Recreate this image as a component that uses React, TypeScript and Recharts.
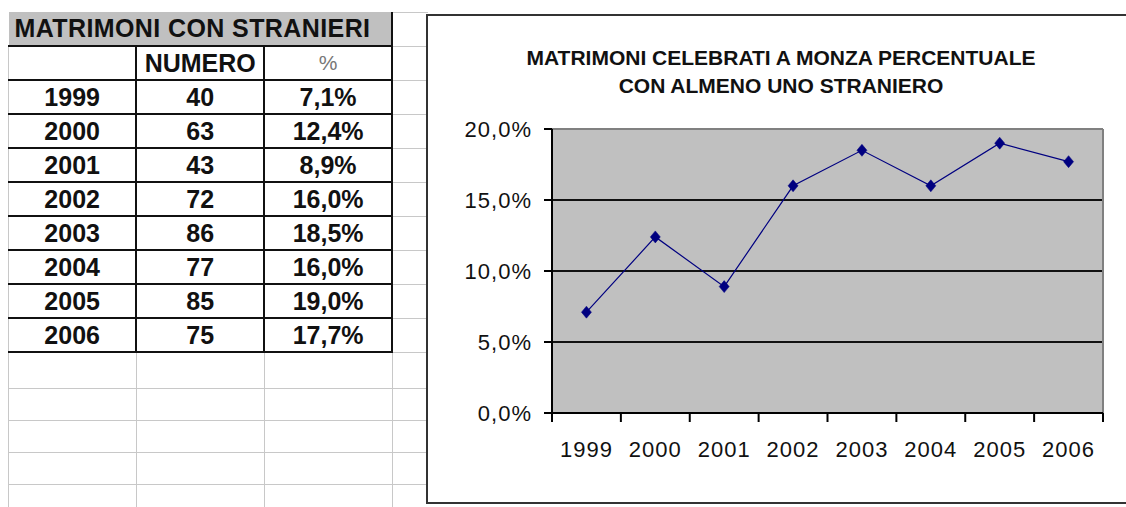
import React from 'react';
import { LineChart, Line, XAxis, YAxis, CartesianGrid, ReferenceLine } from 'recharts';

const tableTitle = 'MATRIMONI CON STRANIERI';
const chartTitle = ['MATRIMONI CELEBRATI A MONZA PERCENTUALE', 'CON ALMENO UNO STRANIERO'];
const years = [1999, 2000, 2001, 2002, 2003, 2004, 2005, 2006];
const numero = [40, 63, 43, 72, 86, 77, 85, 75];
const percent = [7.1, 12.4, 8.9, 16.0, 18.5, 16.0, 19.0, 17.7];
const yTicks = [0, 5, 10, 15, 20];

const data = years.map((y, i) => ({ year: y, pct: percent[i], n: numero[i] }));
// tick marks sit between the years, like Excel
const boundaryTicks = [...years.map(y => y - 0.5), years[years.length - 1] + 0.5];
const xDomain = [boundaryTicks[0], boundaryTicks[boundaryTicks.length - 1]];

const fmtPct = (v: number) => v.toFixed(1).replace('.', ',') + '%';

// spreadsheet grid (layout only)
const gridRows = [12, 46, 80, 114, 148, 182, 216, 250, 284, 318, 352, 388, 420, 452, 484];
const gridCols = [8, 136, 264, 392];

const FONT = 'Arial, "Liberation Sans", sans-serif';

const Diamond = (props: any) => {
  const { cx, cy, index } = props;
  if (cx == null || cy == null) return null;
  return (
    <path
      key={`d-${index}`}
      d={`M${cx},${cy - 6}L${cx + 5},${cy}L${cx},${cy + 6}L${cx - 5},${cy}Z`}
      fill="#000080"
      stroke="#000080"
      strokeWidth={0.5}
    />
  );
};

function SheetGrid() {
  return (
    <>
      {gridRows.map(y => (
        <div key={'h' + y} style={{ position: 'absolute', left: 8, top: y, width: 420, height: 1, background: '#c8c8c8' }} />
      ))}
      {gridCols.map(x => (
        <div key={'v' + x} style={{ position: 'absolute', left: x, top: 12, width: 1, height: 495, background: '#c8c8c8' }} />
      ))}
    </>
  );
}

function DataTable() {
  const cell: React.CSSProperties = {
    border: '2px solid #111',
    textAlign: 'center',
    padding: 0,
    fontSize: 25,
    fontWeight: 'bold',
    color: '#111',
  };
  return (
    <table
      style={{
        position: 'absolute',
        left: 8,
        top: 12,
        width: 385,
        borderCollapse: 'collapse',
        tableLayout: 'fixed',
        fontFamily: FONT,
        background: '#fff',
      }}
    >
      <tbody>
        <tr style={{ height: 34 }}>
          <td
            colSpan={3}
            style={{
              background: '#c0c0c0',
              borderRight: '2px solid #111',
              borderBottom: '2px solid #111',
              fontSize: 25,
              fontWeight: 'bold',
              color: '#111',
              padding: '0 0 0 6px',
              textAlign: 'left',
              whiteSpace: 'nowrap',
              letterSpacing: 0.4,
            }}
          >
            {tableTitle}
          </td>
        </tr>
        <tr style={{ height: 34 }}>
          <td style={{ ...cell, borderLeft: '1px solid #c8c8c8' }}></td>
          <td style={cell}>NUMERO</td>
          <td style={{ ...cell, fontWeight: 'normal', color: '#777', fontSize: 21 }}>%</td>
        </tr>
        {years.map((y, i) => (
          <tr key={y} style={{ height: 34 }}>
            <td style={{ ...cell, borderLeft: '1px solid #c8c8c8' }}>{y}</td>
            <td style={cell}>{numero[i]}</td>
            <td style={cell}>{fmtPct(percent[i])}</td>
          </tr>
        ))}
      </tbody>
    </table>
  );
}

export default function App() {
  const tickStyle = { fontSize: 22, fill: '#111', fontFamily: FONT, letterSpacing: 1 };
  return (
    <div style={{ position: 'absolute', left: 0, top: 0, width: 1126, height: 507, overflow: 'hidden', background: '#fff' }}>
      <SheetGrid />
      <DataTable />

      <div
        style={{
          position: 'absolute',
          left: 426,
          top: 14,
          width: 720,
          height: 486,
          borderTop: '2px solid #333',
          borderLeft: '2px solid #333',
          borderBottom: '2px solid #333',
          background: '#fff',
        }}
      >
        <div
          style={{
            position: 'absolute',
            left: 0,
            top: 28,
            width: 706,
            textAlign: 'center',
            fontFamily: FONT,
            fontWeight: 'bold',
            fontSize: 21,
            lineHeight: '28px',
            color: '#111',
            whiteSpace: 'nowrap',
          }}
        >
          {chartTitle.map(t => (
            <div key={t}>{t}</div>
          ))}
        </div>

        <LineChart width={698} height={484} data={data} margin={{ top: 113, right: 23, left: 0, bottom: 0 }}>
          <CartesianGrid vertical={false} fill="#c0c0c0" stroke="#111" strokeWidth={2} fillOpacity={1} />
          <XAxis
            type="number"
            dataKey="year"
            domain={xDomain}
            ticks={boundaryTicks}
            allowDataOverflow
            tickFormatter={() => ''}
            tickSize={9}
            height={10}
            axisLine={{ stroke: '#000', strokeWidth: 2 }}
            tickLine={{ stroke: '#000', strokeWidth: 2 }}
          />
          <XAxis
            xAxisId="lab"
            type="number"
            dataKey="year"
            domain={xDomain}
            ticks={years}
            allowDataOverflow
            axisLine={false}
            tickLine={false}
            tickSize={0}
            tickMargin={18}
            height={77}
            interval={0}
            tick={tickStyle}
          />
          <YAxis
            type="number"
            domain={[0, 20]}
            ticks={yTicks}
            tickFormatter={fmtPct}
            width={124}
            tickSize={8}
            tickMargin={12}
            interval={0}
            axisLine={{ stroke: '#000', strokeWidth: 2 }}
            tickLine={{ stroke: '#000', strokeWidth: 2 }}
            tick={tickStyle}
          />
          <ReferenceLine y={20} stroke="#808080" strokeWidth={2} />
          <ReferenceLine x={xDomain[1]} stroke="#808080" strokeWidth={2} />
          <Line
            type="linear"
            dataKey="pct"
            stroke="#000080"
            strokeWidth={1.2}
            dot={Diamond}
            activeDot={false}
            isAnimationActive={false}
          />
        </LineChart>
      </div>
    </div>
  );
}
